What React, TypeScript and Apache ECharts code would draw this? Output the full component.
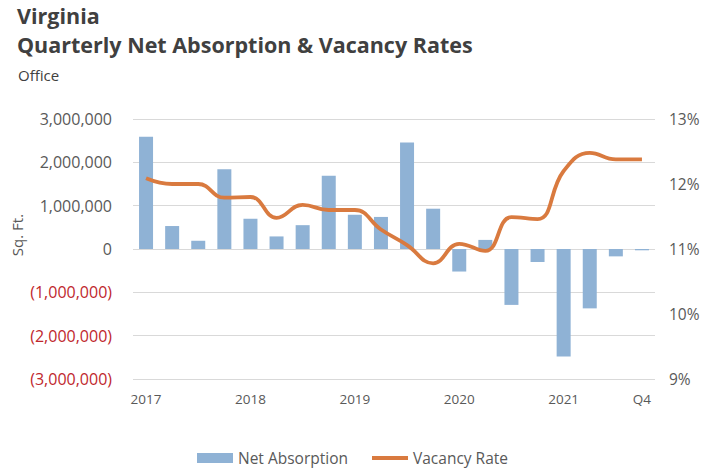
import React, { useEffect, useRef } from "react";
import * as echarts from "echarts";

const quarters = [
  "2017 Q1", "2017 Q2", "2017 Q3", "2017 Q4",
  "2018 Q1", "2018 Q2", "2018 Q3", "2018 Q4",
  "2019 Q1", "2019 Q2", "2019 Q3", "2019 Q4",
  "2020 Q1", "2020 Q2", "2020 Q3", "2020 Q4",
  "2021 Q1", "2021 Q2", "2021 Q3", "2021 Q4",
];
const tickLabels = [
  "2017", "", "", "",
  "2018", "", "", "",
  "2019", "", "", "",
  "2020", "", "", "",
  "2021", "", "", "Q4",
];
const netAbsorption = [
  2590000, 530000, 190000, 1840000,
  700000, 290000, 550000, 1690000,
  790000, 740000, 2460000, 930000,
  -520000, 210000, -1290000, -300000,
  -2480000, -1370000, -170000, -30000,
];
const vacancyRate = [
  12.09, 12.0, 12.0, 11.79,
  11.8, 11.48, 11.68, 11.6,
  11.6, 11.3, 11.06, 10.78,
  11.08, 10.97, 11.49, 11.46,
  12.2, 12.48, 12.38, 12.38,
];

const FONT = "'Open Sans', 'Noto Sans', sans-serif";

export default function App() {
  const ref = useRef<HTMLDivElement>(null);
  useEffect(() => {
    if (!ref.current) return;
    const chart = echarts.init(ref.current, undefined, { renderer: "svg" });
    chart.setOption({
      animation: false,
      backgroundColor: "#ffffff",
      textStyle: { fontFamily: FONT },
      grid: { left: 133, right: 57, top: 119, bottom: 90 },
      graphic: [
        {
          type: "text",
          left: 17,
          top: 4,
          style: { text: "Virginia", font: `bold 21.5px ${FONT}`, fill: "#404040" },
        },
        {
          type: "text",
          left: 17,
          top: 33,
          style: {
            text: "Quarterly Net Absorption & Vacancy Rates",
            font: `bold 21.5px ${FONT}`,
            fill: "#404040",
          },
        },
        {
          type: "text",
          left: 18,
          top: 67,
          style: { text: "Office", font: `15px ${FONT}`, fill: "#404040" },
        },
        {
          type: "text",
          x: 17,
          y: 235,
          rotation: Math.PI / 2,
          style: {
            text: "Sq. Ft.",
            font: `15px ${FONT}`,
            fill: "#595959",
            align: "center",
            verticalAlign: "middle",
          },
        },
      ],
      legend: {
        left: 197,
        top: 449,
        padding: 0,
        itemGap: 24,
        itemWidth: 36,
        itemHeight: 10,
        textStyle: { fontSize: 15.5, lineHeight: 18, color: "#595959", fontFamily: FONT },
        data: [
          { name: "Net Absorption", icon: "rect" },
          { name: "Vacancy Rate", icon: "path://M0,0 h36 v4 h-36 z" },
        ],
      },
      xAxis: {
        type: "category",
        data: quarters,
        axisLine: { show: false, onZero: false },
        axisTick: { show: false },
        axisLabel: {
          interval: 0,
          color: "#595959",
          fontSize: 13.5,
          margin: 13,
          formatter: (_v: string, i: number) => tickLabels[i],
        },
      },
      yAxis: [
        {
          type: "value",
          min: -3000000,
          max: 3000000,
          interval: 1000000,
          axisLine: { show: false },
          axisTick: { show: false },
          splitLine: { lineStyle: { color: "#d9d9d9", width: 1 } },
          axisLabel: {
            margin: 21,
            fontSize: 16,
            formatter: (v: number) => {
              const s = Math.abs(v).toLocaleString("en-US");
              return v < 0 ? `{neg|(${s})}` : `{pos|${s}}`;
            },
            rich: {
              pos: { color: "#595959", fontSize: 16, fontFamily: FONT },
              neg: { color: "#c0272d", fontSize: 16, fontFamily: FONT },
            },
          },
        },
        {
          type: "value",
          min: 9,
          max: 13,
          interval: 1,
          position: "right",
          axisLine: { show: false },
          axisTick: { show: false },
          splitLine: { show: false },
          axisLabel: {
            margin: 14,
            color: "#595959",
            fontSize: 15.5,
            formatter: (v: number) => `${v}%`,
          },
        },
      ],
      series: [
        {
          name: "Net Absorption",
          type: "bar",
          data: netAbsorption,
          barWidth: 14,
          itemStyle: { color: "#8fb2d5" },
        },
        {
          name: "Vacancy Rate",
          type: "line",
          yAxisIndex: 1,
          data: vacancyRate,
          smooth: 0.45,
          symbol: "none",
          lineStyle: { color: "#d97a3f", width: 3.8 },
          itemStyle: { color: "#d97a3f" },
        },
      ],
    });
    return () => chart.dispose();
  }, []);
  return (
    <div
      ref={ref}
      style={{ width: 712, height: 469, position: "fixed", left: 0, top: 0 }}
    />
  );
}
